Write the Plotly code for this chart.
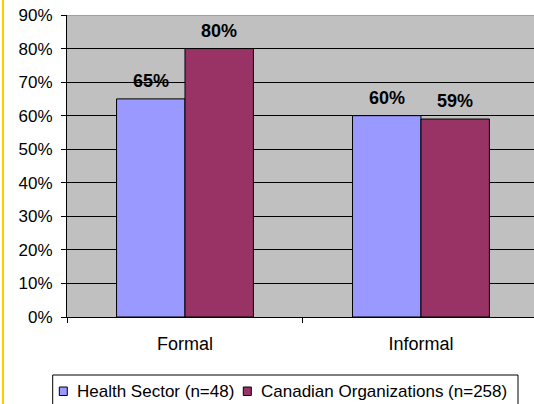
import plotly.graph_objects as go

categories = ["Formal", "Informal"]
health = [0.65, 0.60]
canadian = [0.80, 0.59]
health_labels = ["65%", "60%"]
canadian_labels = ["80%", "59%"]
series_names = ["Health Sector (n=48)", "Canadian Organizations (n=258)"]
series_colors = ["#9999FF", "#993366"]
ytickvals = [0, 0.1, 0.2, 0.3, 0.4, 0.5, 0.6, 0.7, 0.8, 0.9]
yticktext = ["0%", "10%", "20%", "30%", "40%", "50%", "60%", "70%", "80%", "90%"]

FONT = "Liberation Sans, Arial, sans-serif"

# plot area in pixels: x 67..534, y 15..317
L, R, T, B = 67, 534, 15, 317
def px(x):
    return (x - L) / (R - L)
def py(y):
    return (B - y) / (B - T)

fig = go.Figure()
fig.add_trace(go.Bar(x=categories, y=health, name=series_names[0], showlegend=False,
                     marker=dict(color=series_colors[0], line=dict(color="black", width=1))))
fig.add_trace(go.Bar(x=categories, y=canadian, name=series_names[1], showlegend=False,
                     marker=dict(color=series_colors[1], line=dict(color="black", width=1))))

label_font = dict(family=FONT, size=18, color="black", weight="bold")
annotations = []
for cat, v, t in zip(categories, health, health_labels):
    annotations.append(dict(x=cat, y=v, xref="x", yref="y", text=t, showarrow=False,
                            xshift=-34, yshift=18, yanchor="middle", font=label_font))
for cat, v, t in zip(categories, canadian, canadian_labels):
    annotations.append(dict(x=cat, y=v, xref="x", yref="y", text=t, showarrow=False,
                            xshift=34, yshift=18, yanchor="middle", font=label_font))

# custom legend
leg_font = dict(family=FONT, size=17, color="black")
shapes = [
    dict(type="line", xref="paper", yref="y", x0=0, x1=1, y0=0.9, y1=0.9,
         line=dict(color="#808080", width=1), layer="above"),
    dict(type="line", xref="paper", yref="paper", x0=px(3), x1=px(3), y0=py(-5), y1=py(410),
         line=dict(color="#FFCC00", width=2)),
    dict(type="rect", xref="paper", yref="paper", x0=px(52.7), x1=px(518), y0=py(375), y1=py(410),
         line=dict(color="black", width=1), fillcolor="white"),
]
sq_x = [59.3, 243.3]
txt_x = [75, 259.3]
for i in range(2):
    shapes.append(dict(type="rect", xref="paper", yref="paper",
                       x0=px(sq_x[i]), x1=px(sq_x[i] + 8), y0=py(387), y1=py(395.5),
                       line=dict(color="black", width=1), fillcolor=series_colors[i]))
    annotations.append(dict(x=px(txt_x[i]), y=py(391), xref="paper", yref="paper",
                            text=series_names[i], showarrow=False, xanchor="left",
                            yanchor="middle", font=leg_font))

fig.update_layout(
    width=534, height=404,
    margin=dict(l=L, r=534 - R, t=T, b=404 - B, autoexpand=False),
    paper_bgcolor="white",
    plot_bgcolor="#C0C0C0",
    barmode="group",
    bargap=0.42,
    bargroupgap=0,
    font=dict(family=FONT, size=17, color="black"),
    annotations=annotations,
    shapes=shapes,
    showlegend=False,
)
fig.update_xaxes(
    type="category", range=[-0.5, 1.479],
    showline=True, linecolor="black", linewidth=1,
    ticks="outside", tickson="boundaries", ticklen=5, tickcolor="black",
    showgrid=False, ticklabelstandoff=10,
    tickfont=dict(family=FONT, size=18, color="black"),
)
fig.update_yaxes(
    range=[0, 0.9], tickvals=ytickvals, ticktext=yticktext,
    showline=True, linecolor="black", linewidth=1,
    ticks="outside", ticklen=5, tickcolor="black",
    showgrid=True, gridcolor="black", gridwidth=1,
    zeroline=False, ticklabelstandoff=5,
    tickfont=dict(family=FONT, size=17, color="black"),
)

fig.write_html("out.html", config={"displayModeBar": False},
               post_script="document.body.style.margin='0';document.body.style.overflow='hidden';")
